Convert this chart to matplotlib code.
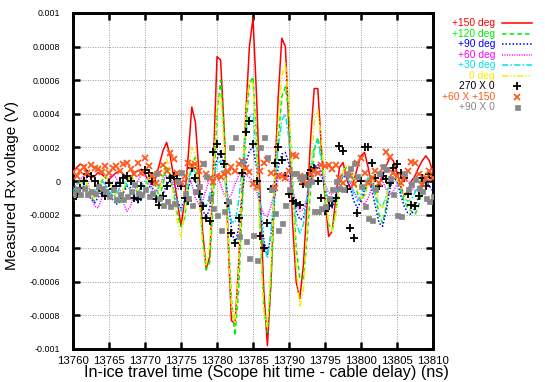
import numpy as np
import matplotlib
matplotlib.use("Agg")
import matplotlib.pyplot as plt
from matplotlib.lines import Line2D

plt.rcParams['font.family'] = ['Liberation Sans', 'DejaVu Sans']

# time samples (ns), 0.5 ns spacing
t_start, t_stop, t_step = 13760.0, 13810.0, 0.5
t = np.arange(t_start, t_stop + t_step / 2, t_step)

# values in units of 1e-4 V (10 samples per row = 5 ns)
deg150 = [0.5, 0.8, 1.0, 0.9, 0.4, 0.2, 0.3, 0.5, 0.4, 0.2,
          0.1, 0.3, 0.5, 0.6, 0.4, 0.2, 0.2, 0.5, 0.6, 0.7,
          0.4, 0.0, -0.2, 0.2, 1.0, 1.8, 2.3, 1.5, 0.2, -1.2,
          -2.7, -1.2, 1.5, 4.4, 3.5, 0.5, -3.0, -5.2, -4.5, 1.0,
          7.4, 7.2, 3.0, -3.0, -8.3, -8.5, -5.0, -0.5, 4.0, 8.0,
          9.7, 5.0, -1.0, -6.5, -9.8, -6.0, 0.0, 5.0, 8.5, 8.0,
          3.0, -2.5, -6.0, -7.0, -5.0, -1.5, 2.5, 5.5, 5.5, 2.0,
          -1.0, -3.3, -3.0, -1.0, 0.8, 1.1, 0.2, -0.5, 0.0, 0.8,
          1.5, 1.7, 0.8, -0.3, -0.6, -0.2, 0.3, 0.9, 1.4, 1.2,
          0.5, -0.3, -0.9, -0.6, 0.0, 0.3, 0.8, 1.2, 1.5, 1.2,
          0.5]
deg120 = [-1.0, -0.6, 0.0, 0.2, -0.4, -1.0, -1.2, -0.6, 0.0, 0.3,
          0.0, -0.6, -1.1, -1.3, -0.7, 0.0, 0.3, 0.0, -0.8, -1.2,
          -0.6, 0.2, 0.5, -0.3, -1.0, -0.2, 0.8, 0.5, -0.8, -2.0,
          -2.7, -2.2, -0.5, 1.0, 1.4, -0.5, -3.5, -5.3, -4.8, -1.0,
          4.0, 6.0, 3.0, -2.5, -7.0, -9.2, -6.5, -1.5, 3.0, 5.8,
          6.2, 2.5, -3.0, -7.5, -9.0, -6.0, -1.0, 2.5, 5.0, 5.6,
          4.0, 0.0, -4.0, -5.8, -5.8, -3.5, -0.5, 1.8, 2.6, 1.5,
          -1.0, -2.6, -2.9, -1.8, -0.3, 0.6, 0.8, 0.7, 0.0, -0.7,
          -1.2, -0.8, 0.0, 0.3, -0.8, -2.0, -2.5, -1.5, 0.0, 0.6,
          0.2, -0.6, -1.2, -1.6, -1.8, -2.0, -1.5, -0.5, 0.3, 0.5,
          0.2]
deg90 = [-1.2, -0.9, -0.5, -0.3, -0.6, -1.1, -1.3, -1.0, -0.5, -0.3,
         -0.6, -1.1, -1.4, -1.2, -0.7, -0.3, -0.4, -0.9, -1.3, -1.1,
         -0.6, -0.3, -0.4, -0.9, -1.2, -0.8, -0.2, 0.0, -0.6, -1.2,
         -1.6, -1.2, -0.4, 0.2, 0.0, -0.8, -1.7, -2.2, -1.6, 0.0,
         1.3, 1.8, 0.8, -1.0, -2.8, -3.8, -2.8, -0.8, 1.0, 1.8,
         2.0, 0.8, -1.5, -3.5, -4.4, -3.2, -1.0, 0.8, 1.6, 1.7,
         1.0, -0.5, -1.8, -2.3, -2.2, -1.2, 0.0, 0.8, 1.0, 0.5,
         -0.5, -1.3, -1.6, -1.0, -0.2, 0.3, 0.2, -0.4, -1.2, -1.6,
         -1.2, -0.5, 0.0, -0.5, -1.5, -2.5, -2.7, -1.8, -0.5, 0.2,
         0.0, -0.8, -1.5, -1.9, -2.0, -1.6, -0.8, -0.2, 0.0, -0.3,
         -0.6]
deg60 = [-0.4, -0.2, 0.1, 0.3, 0.0, -0.8, -1.5, -1.6, -1.0, -0.3,
         0.2, 0.4, 0.2, -0.5, -1.3, -1.8, -1.5, -0.7, 0.0, 0.4,
         0.3, 0.0, -0.4, -0.6, -0.3, 0.1, 0.3, 0.2, -0.2, -0.5,
         -0.4, 0.0, 0.3, -0.2, -1.0, -1.4, -1.2, -0.5, 0.2, 0.4,
         0.3, -0.2, -0.8, -1.1, -0.8, -0.2, 0.3, 0.5, 0.4, 0.2,
         0.0, -0.6, -1.4, -2.0, -2.1, -1.5, -0.6, 0.2, 0.5, 0.4,
         0.0, -0.6, -1.3, -1.8, -1.7, -1.0, -0.2, 0.4, 0.6, 0.3,
         -0.2, -0.7, -0.8, -0.4, 0.2, 0.5, 0.4, -0.1, -0.6, -1.0,
         -1.2, -1.4, -1.0, -0.4, 0.1, 0.3, 0.0, -0.5, -0.8, -0.6,
         -0.2, 0.2, 0.3, 0.0, -0.4, -0.6, -0.4, 0.0, 0.3, 0.2,
         0.0]
deg30 = [-0.6, -0.3, 0.0, -0.2, -0.6, -0.9, -0.7, -0.3, 0.0, -0.2,
         -0.6, -0.9, -0.8, -0.4, -0.1, -0.2, -0.6, -0.9, -0.7, -0.3,
         0.0, -0.2, -0.6, -0.8, -0.3, 0.3, 0.6, 0.2, -0.6, -1.3,
         -1.8, -1.2, 0.0, 0.8, 0.5, -0.5, -1.3, -1.5, -0.8, 0.3,
         1.0, 1.2, 0.3, -1.2, -2.4, -2.5, -1.2, 0.8, 2.8, 3.8,
         4.0, 1.5, -1.5, -3.8, -4.6, -3.0, -0.5, 2.0, 3.6, 4.0,
         2.5, -0.5, -2.5, -3.1, -2.6, -1.0, 0.8, 2.0, 2.4, 1.2,
         -0.3, -1.3, -1.5, -0.8, 0.0, 0.4, 0.3, -0.2, -0.8, -1.2,
         -0.8, -0.2, 0.2, -0.2, -0.9, -1.4, -1.5, -0.9, 0.0, 0.4,
         0.1, -0.5, -1.0, -1.2, -1.1, -0.7, -0.2, 0.2, 0.4, 0.2,
         0.0]
deg0 = [-1.2, -0.8, -0.2, 0.2, -0.2, -0.8, -1.0, -0.5, 0.1, 0.3,
        0.0, -0.5, -0.9, -1.0, -0.5, 0.1, 0.3, 0.0, -0.6, -1.0,
        -0.5, 0.2, 0.4, -0.2, -0.6, 0.3, 1.3, 0.6, -1.0, -2.4,
        -3.3, -2.0, 0.5, 2.0, 1.6, -0.8, -3.8, -5.0, -3.8, 0.5,
        4.5, 5.2, 2.0, -3.0, -7.5, -8.5, -5.0, 0.0, 4.0, 6.0,
        5.8, 2.0, -3.5, -7.8, -8.7, -5.0, 0.0, 3.5, 6.2, 7.0,
        4.5, -0.5, -5.0, -7.5, -6.5, -3.0, 0.5, 3.5, 4.2, 2.5,
        -0.5, -2.5, -3.0, -2.0, -0.5, 0.6, 1.0, 0.8, 0.2, -0.5,
        -1.0, -1.0, -0.2, 0.3, -0.3, -1.3, -1.6, -1.0, 0.0, 0.5,
        0.2, -0.3, -0.8, -1.2, -1.4, -1.3, -0.8, -0.2, 0.3, 0.4,
        0.2]
x270_0 = [-1.1, -0.8, -0.4, 0.0, 0.4, 0.3, 0.0, -0.3, -0.6, -0.9,
          -0.1, -0.5, -0.3, -0.1, 0.2, 0.3, 0.0, -1.0, -1.1, -0.3,
          0.65, 0.5, 0.0, -1.1, -1.4, -0.9, -0.3, 0.2, 0.3, 0.1,
          -0.3, -1.0, -1.2, 0.8, 0.2, -0.8, -1.5, -2.2, -2.4, 1.7,
          2.2, 1.6, 1.0, -1.3, -3.1, -3.7, -2.2, 0.5, 2.9, 3.6,
          2.2, 0.0, -3.3, -4.0, -2.5, -0.5, 1.1, 2.0, 1.25, 0.3,
          -0.8, -1.2, -1.3, -1.4, -0.2, 0.3, 0.65, 0.8, 0.0, -1.0,
          -1.8, -1.5, -1.2, -1.0, 2.1, 1.8, -0.5, -2.8, -3.4, -1.9,
          0.0, 2.0, 2.0, 1.1, 0.2, -0.3, 0.3, 0.1, -0.1, 0.8,
          1.0, 0.5, 0.2, -0.8, -1.4, -1.5, -0.9, 0.2, -0.3, 0.4,
          0.2]
x60_150 = [0.55, 0.3, 0.6, 0.85, 0.5, 0.95, 0.8, 0.7, 0.55, 0.9,
           0.5, 0.8, 0.9, 0.6, 1.0, 1.1, 0.7, 0.4, 1.1, 0.5,
           1.35, 0.9, 0.3, -0.1, 0.5, 0.95, 0.6, 1.65, 1.3, 0.5,
           -0.1, 0.3, 1.05, 0.9, 1.0, 0.6, 1.0, 0.4, 0.2, -0.05,
           0.3, 0.25, 0.4, 0.55, 0.85, 0.6, 1.0, 1.2, 0.8, 0.55,
           -0.2, -0.35, 0.6, 1.05, 1.25, 0.5, -0.4, 0.3, 0.3, 0.2,
           0.6, 1.55, 1.5, 0.3, 0.0, -0.1, 0.4, 0.6, 0.5, 0.95,
           0.9, 0.95, 0.7, 0.95, 0.2, -0.1, 0.5, 0.3, -0.2, 1.05,
           1.35, 0.5, -0.1, 0.2, 0.6, -0.1, 0.8, 1.75, 1.45, 0.5,
           0.3, -0.1, 0.2, 0.6, 1.15, 1.05, 0.4, -0.2, 0.2, 0.6,
           0.2]
x90_0 = [-0.7, -0.5, -0.8, -0.4, -0.8, -0.6, -0.7, -0.3, -0.4, -0.6,
         -0.9, -0.5, -1.1, -0.8, -1.1, -0.9, -0.6, -0.2, -0.7, -0.8,
         -0.5, -0.9, -0.7, 0.5, -1.0, -1.4, -1.2, -1.5, -1.3, 0.0,
         0.55, -0.7, -1.0, -1.4, -0.6, -0.3, 1.1, 0.3, -1.0, -1.6,
         -2.0, -2.9, -1.8, -1.2, 2.0, 2.6, -3.3, 1.2, -3.6, -4.6,
         -3.2, -4.7, 2.0, 2.6, 1.4, -0.5, -1.9, -2.9, -2.5, -1.4,
         -0.5, 0.5, 0.5, 0.2, 0.3, -0.2, 0.0, -1.8, -1.8, -1.6,
         -1.5, -1.0, -0.5, 0.0, -0.4, -0.5, 0.4, 0.8, 1.1, 0.3,
         -0.3, -1.5, -2.2, -2.3, -0.5, 0.5, 0.9, 0.7, 0.2, -0.8,
         -2.0, -2.1, 0.5, -0.5, -0.2, 0.1, -0.4, -0.6, -1.0, -1.2,
         -0.9]
unit = 1e-4

line_labels = ['+150 deg', '+120 deg', '+90 deg', '+60 deg', '+30 deg', '0 deg']
point_labels = ['270 X 0', '+60 X +150', '+90 X 0']
x_ticks = [13760, 13765, 13770, 13775, 13780, 13785, 13790, 13795, 13800, 13805, 13810]
y_ticks = [-0.001, -0.0008, -0.0006, -0.0004, -0.0002, 0, 0.0002, 0.0004, 0.0006, 0.0008, 0.001]
y_tick_labels = ['-0.001', '-0.0008', '-0.0006', '-0.0004', '-0.0002', '0',
                 '0.0002', '0.0004', '0.0006', '0.0008', '0.001']

W, H = 545, 382
fig = plt.figure(figsize=(W / 100, H / 100), dpi=100)
L, R, T, B = 73, 433, 13, 349
ax = fig.add_axes([L / W, 1 - B / H, (R - L) / W, (B - T) / H])

line_series = [deg150, deg120, deg90, deg60, deg30, deg0]
line_colors = ['#ff0000', '#00ee00', '#0000ff', '#ff00ff', '#00e5e5', '#f0f000']
line_styles = ['-', (0, (3, 2)), (0, (1, 1.3)), (0, (0.7, 0.9)),
               (0, (4, 1.5, 1, 1.5)), (0, (4, 1.3, 1, 1.3, 1, 1.3))]
line_width = 1.1
for vals, c, ls in zip(line_series, line_colors, line_styles):
    ax.plot(t, np.array(vals) * unit, color=c, ls=ls, lw=line_width, zorder=3)

point_series = [x270_0, x60_150, x90_0]
point_colors = ['#000000', '#ff5a1e', '#888888']
point_markers = ['+', 'x', 's']
point_sizes = [5.5, 4.5, 3.6]
point_mew = [1.3, 1.3, 0.5]
for vals, c, m, s, mw in zip(point_series, point_colors, point_markers, point_sizes, point_mew):
    ax.plot(t, np.array(vals) * unit, ls='none', marker=m, color=c, ms=s, mew=mw, zorder=4)

ax.set_xlim(13760, 13810)
ax.set_ylim(-0.001, 0.001)
ax.set_xticks(x_ticks)
ax.set_xticklabels([str(v) for v in x_ticks], fontsize=8.2)
ax.set_yticks(y_ticks)
ax.set_yticklabels(y_tick_labels, fontsize=6.4)
ax.tick_params(direction='in', length=5, width=1.8, top=True, right=True, pad=5)
ax.tick_params(axis='y', pad=9)
ax.grid(True, color='#999999', ls=(0, (1, 1.5)), lw=0.7, zorder=0)
ax.set_axisbelow(True)
for sp in ax.spines.values():
    sp.set_linewidth(2.1)

ax.set_xlabel('In-ice travel time (Scope hit time - cable delay) (ns)', fontsize=11.6, va='center')
ax.xaxis.set_label_coords((266 - L) / (R - L), (B - 373) / (B - T))
ax.set_ylabel('Measured Rx voltage (V)', fontsize=11, va='center')
ax.yaxis.set_label_coords((12 - L) / (R - L), (B - 185) / (B - T))

# key outside the plot, text right-aligned before the sample
row_y0, row_dy = 23.3, 10.5
row = 0
for lab, c, ls in zip(line_labels, line_colors, line_styles):
    yc = 1 - (row_y0 + row * row_dy) / H
    fig.text(495 / W, yc, lab, ha='right', va='center', fontsize=7.4, color=c)
    fig.add_artist(Line2D([502 / W, 532 / W], [yc, yc], transform=fig.transFigure,
                          color=c, ls=ls, lw=line_width))
    row += 1
for lab, c, m, s, mw in zip(point_labels, point_colors, point_markers, point_sizes, point_mew):
    yc = 1 - (row_y0 + row * row_dy) / H
    fig.text(495 / W, yc, lab, ha='right', va='center', fontsize=7.4, color=c)
    fig.add_artist(Line2D([517 / W], [yc], transform=fig.transFigure, ls='none',
                          marker=m, color=c, ms=s, mew=mw))
    row += 1

fig.savefig('out.png', dpi=100)
